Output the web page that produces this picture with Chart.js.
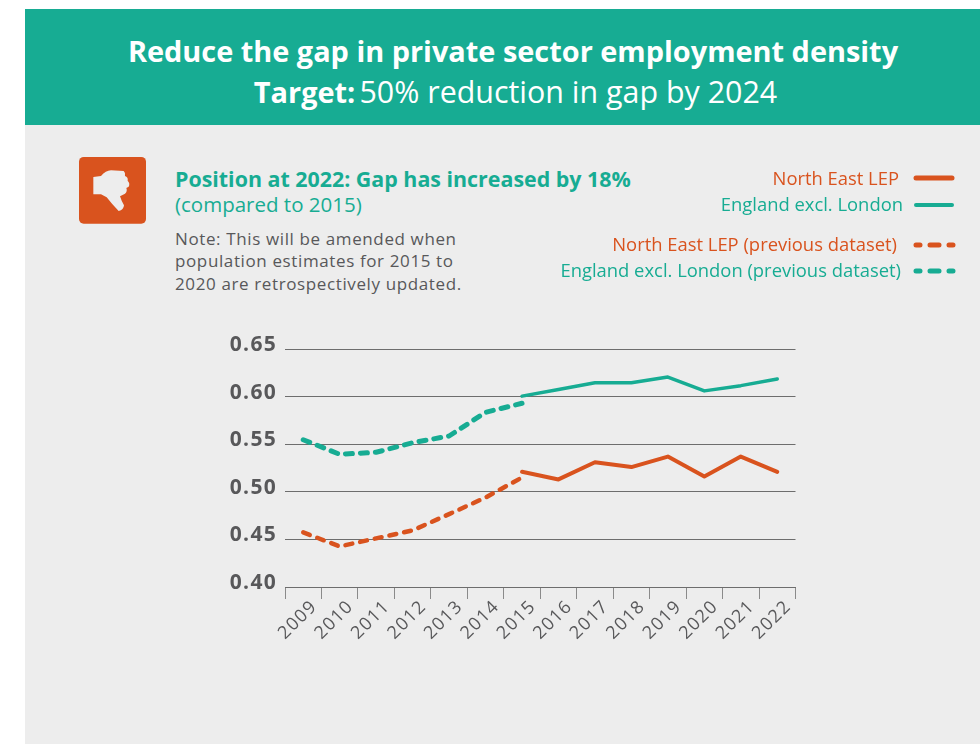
<!DOCTYPE html>
<html>
<head>
<meta charset="utf-8">
<title>Private sector employment density</title>
<script src="https://cdn.jsdelivr.net/npm/chart.js@4"></script>
<style>
  html, body { margin: 0; padding: 0; background: #fff; }
  body { width: 980px; height: 744px; position: relative; overflow: hidden; font-family: "Open Sans", sans-serif; }
  .abs { position: absolute; white-space: nowrap; }
  #header { left: 25px; top: 9px; width: 955px; height: 116px; background: #17ac93; }
  #panel { left: 25px; top: 125px; width: 955px; height: 619px; background: #ededed; }
  .title-line { width: 976px; text-align: center; color: #fff; line-height: 41px; }
  .title-line b { font-weight: 700; font-size: 28.9px; }
  .title-line span { font-weight: 400; font-size: 30.4px; }
  #icon { left: 75px; top: 152px; width: 76px; height: 76px; }
  #position { left: 175px; top: 166px; color: #17ac93; font-size: 20.5px; line-height: 25px; }
  #position b { font-weight: 700; font-size: 21.4px; }
  #note { left: 175px; top: 227.5px; color: #58585a; font-size: 17px; line-height: 22.5px; letter-spacing: 0.62px; }
  .legend-text { font-size: 18.4px; line-height: 22px; }
  #chart-wrap { left: 0; top: 0; width: 980px; height: 744px; }
</style>
</head>
<body>
<div class="abs" id="header"></div>
<div class="abs" id="panel"></div>
<div class="abs title-line" style="left:25px;top:30px"><b>Reduce the gap in private sector employment density</b></div>
<div class="abs title-line" style="left:27.5px;top:71px"><b>Target:</b> <span>50% reduction in gap by 2024</span></div>

<svg class="abs" id="icon" viewBox="0 0 228 228">
  <rect x="12" y="15" width="201" height="200" rx="14" fill="#d9531e"/>
  <path fill="#ededed" d="M55 75 L78 72 Q92 56 108 55 L146 57 Q152 62 150 72 Q160 76 158 86 Q166 94 161 104 L154 108 Q158 118 150 125 L135 133 Q139 146 147 160 Q146 174 131 177 Q112 158 95 136 L78 127 L55 127 Z"/>
</svg>

<div class="abs" id="position"><b>Position at 2022: Gap has increased by 18%</b><br>(compared to 2015)</div>
<div class="abs" id="note">Note: This will be amended when<br>population estimates for 2015 to<br>2020 are retrospectively updated.</div>

<div class="abs" id="chart-wrap"><canvas id="linechart" width="980" height="744"></canvas></div>

<script>
var years = ['2009', '2010', '2011', '2012', '2013', '2014', '2015', '2016', '2017', '2018', '2019', '2020', '2021', '2022'];
var yTicks = [0.40, 0.45, 0.50, 0.55, 0.60, 0.65];

var northEast = [null, null, null, null, null, null, 0.521, 0.513, 0.531, 0.526, 0.537, 0.516, 0.537, 0.521];
var england = [null, null, null, null, null, null, 0.6005, 0.6075, 0.6145, 0.6145, 0.6205, 0.606, 0.6115, 0.6185];
var northEastPrev = [0.4574, 0.4426, 0.4511, 0.4595, 0.4765, 0.494, 0.515, null, null, null, null, null, null, null];
var englandPrev = [0.5547, 0.5394, 0.5415, 0.5515, 0.5586, 0.5835, 0.593, null, null, null, null, null, null, null];

var orange = '#d9531e';
var teal = '#17ac93';
var grey = '#58585a';
var dashes = [7, 8];

// legend rows: label, colour, dashed or not, right edge of the text, text centre, sample centre
var legendRows = [
  ['North East LEP', orange, false, 899, 178, 177.5],
  ['England excl. London', teal, false, 903, 204, 205],
  ['North East LEP (previous dataset)', orange, true, 897, 244, 244.5],
  ['England excl. London (previous dataset)', teal, true, 901, 270, 271]
];

legendRows.forEach(function(row) {
  var text = document.createElement('div');
  text.className = 'abs legend-text';
  text.textContent = row[0];
  text.style.color = row[1];
  text.style.right = (980 - row[3]) + 'px';
  text.style.top = (row[4] - 11) + 'px';
  document.body.appendChild(text);

  var svgNS = 'http://www.w3.org/2000/svg';
  var svg = document.createElementNS(svgNS, 'svg');
  svg.setAttribute('class', 'abs');
  svg.setAttribute('width', 60);
  svg.setAttribute('height', 12);
  svg.style.left = '902px';
  svg.style.top = (row[5] - 6) + 'px';
  var line = document.createElementNS(svgNS, 'line');
  line.setAttribute('x1', 14);
  line.setAttribute('x2', row[2] ? 51 : 50);
  line.setAttribute('y1', 6);
  line.setAttribute('y2', 6);
  line.setAttribute('stroke', row[1]);
  line.setAttribute('stroke-width', row[1] === orange || row[2] ? 5 : 4);
  line.setAttribute('stroke-linecap', 'round');
  if (row[2]) line.setAttribute('stroke-dasharray', '4 10 9 10 4');
  svg.appendChild(line);
  document.body.appendChild(svg);
});

function series(values, colour, dashed, width) {
  return {
    data: values,
    borderColor: colour,
    backgroundColor: colour,
    borderWidth: width,
    borderDash: dashed ? dashes : [],
    borderCapStyle: 'round',
    borderJoinStyle: 'round',
    pointRadius: 0,
    tension: 0,
    spanGaps: false
  };
}

// the axis digits are set a little wider than the font gives
var wideDigits = {
  id: 'wideDigits',
  beforeDraw: function(chart) { chart.ctx.letterSpacing = '1.3px'; }
};

var ctx = document.getElementById('linechart').getContext('2d');
var myChart = new Chart(ctx, {
  type: 'line',
  plugins: [wideDigits],
  data: {
    labels: years,
    datasets: [
      series(northEast, orange, false, 4),
      series(england, teal, false, 3.5),
      series(northEastPrev, orange, true, 4.5),
      series(englandPrev, teal, true, 5)
    ]
  },
  options: {
    responsive: false,
    animation: false,
    layout: { padding: { left: 225, top: 349, right: 184.5, bottom: 84 } },
    plugins: { legend: { display: false }, tooltip: { enabled: false }, title: { display: false } },
    scales: {
      x: {
        offset: true,
        afterFit: function(scale) { scale.height = 73; },
        grid: { offset: true, drawOnChartArea: false, drawTicks: true, tickLength: 12, color: '#8a8a8a', lineWidth: 1 },
        border: { display: true, color: '#6d6d6d', width: 1 },
        ticks: {
          autoSkip: false, minRotation: 45, maxRotation: 45, padding: -3, labelOffset: 11,
          color: grey, font: { family: '"Open Sans"', size: 18 }
        }
      },
      y: {
        min: 0.40,
        max: 0.65,
        afterFit: function(scale) { scale.width = 60; },
        afterBuildTicks: function(scale) {
          scale.ticks = yTicks.map(function(v) { return { value: v }; });
        },
        grid: { drawTicks: false, color: '#6d6d6d', lineWidth: 1 },
        border: { display: false },
        ticks: {
          padding: 8,
          labelOffset: -4,
          color: grey,
          font: { family: '"Open Sans"', size: 21, weight: '700' },
          callback: function(v) { return Number(v).toFixed(2); }
        }
      }
    }
  }
});
</script>
</body>
</html>
